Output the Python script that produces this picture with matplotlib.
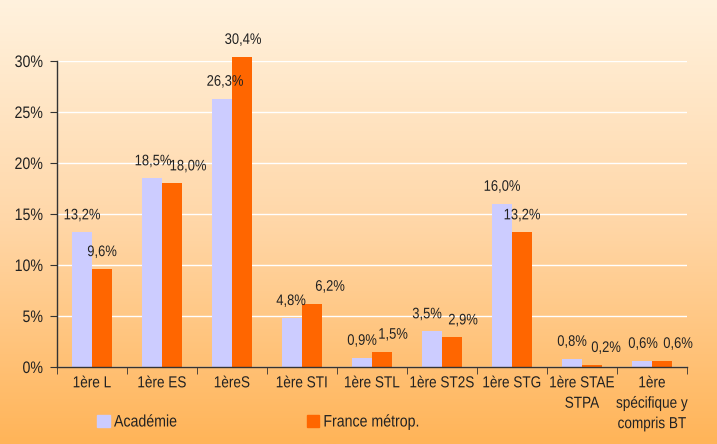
import numpy as np
import matplotlib
matplotlib.use("Agg")
import matplotlib.pyplot as plt
from matplotlib.patches import Patch
from matplotlib.colors import LinearSegmentedColormap
from matplotlib.patheffects import AbstractPathEffect
from matplotlib.transforms import Affine2D

categories = ["1ère L", "1ère ES", "1èreS", "1ère STI", "1ère STL", "1ère ST2S",
              "1ère STG", "1ère STAE\nSTPA", "1ère\nspécifique y\ncompris BT"]
academie = [13.2, 18.5, 26.3, 4.8, 0.9, 3.5, 16.0, 0.8, 0.6]
france = [9.6, 18.0, 30.4, 6.2, 1.5, 2.9, 13.2, 0.2, 0.6]

# label nudges (pixels) so neighbouring value labels don't collide
dx_acad = [0, 1, 3, -1, 0, -5, 0, 0, 1]
dx_fr = [0, 16, 1, 18, 11, 11, 0, 14, 16]

ACAD_COLOR = "#ccccff"
FR_COLOR = "#ff6600"
TXT = "#222222"
plt.rcParams["font.family"] = ["Liberation Sans", "DejaVu Sans"]


class Squeeze(AbstractPathEffect):
    """squash text horizontally, to get the narrow Arial look"""
    def __init__(self, sx=0.85, anchor="center"):
        super().__init__()
        self.sx = sx
        self.anchor = anchor

    def draw_path(self, renderer, gc, tpath, affine, rgbFace=None):
        v = affine.transform_path(tpath).vertices
        if len(v) == 0:
            return
        x0, x1 = v[:, 0].min(), v[:, 0].max()
        cx = {"center": (x0 + x1) / 2, "right": x1, "left": x0}[self.anchor]
        t = affine + Affine2D().translate(-cx, 0).scale(self.sx, 1).translate(cx, 0)
        renderer.draw_path(gc, tpath, t, rgbFace)


W, H = 717, 444
fig = plt.figure(figsize=(W / 100, H / 100), dpi=100)

# background gradient
bg = fig.add_axes([0, 0, 1, 1])
cmap = LinearSegmentedColormap.from_list("bg", ["#fff2de", "#ffd7a8", "#ffb458"])
bg.imshow(np.linspace(0, 1, 256).reshape(-1, 1), aspect="auto", cmap=cmap,
          extent=[0, 1, 0, 1])
bg.set_axis_off()

ax = fig.add_axes([57 / W, (H - 367) / H, 630 / W, 306 / H])
ax.set_facecolor("none")

x = np.arange(len(categories))
w = 20 / 70
ax.bar(x - w / 2, academie, w, color=ACAD_COLOR, clip_on=False, zorder=2)
ax.bar(x + w / 2, france, w, color=FR_COLOR, clip_on=False, zorder=2)

for i in range(len(categories)):
    for val, off, dx in [(academie[i], -w / 2, dx_acad[i]), (france[i], w / 2, dx_fr[i])]:
        ax.annotate(f"{val:.1f}%".replace(".", ","), (x[i] + off, val),
                    xytext=(dx, 17), textcoords="offset pixels",
                    ha="center", va="center", fontsize=11, color=TXT,
                    annotation_clip=False, path_effects=[Squeeze()])

ax.set_xlim(-0.5, len(categories) - 0.5)
ax.set_ylim(0, 30)
ax.set_yticks(np.arange(0, 31, 5))
ax.set_yticklabels([f"{t}%" for t in range(0, 31, 5)], fontsize=12, color=TXT)
ax.set_xticks(x)
ax.set_xticklabels(categories, fontsize=11.5, color=TXT, linespacing=1.45, va="top")
ax.set_xticks(np.arange(-0.5, len(categories)), minor=True)
ax.tick_params(axis="x", which="major", length=0, pad=6)
ax.tick_params(axis="x", which="minor", length=5, direction="out", color="#333333")
ax.tick_params(axis="y", length=5, direction="out", color="#333333", pad=5)
for t in ax.get_yticklabels():
    t.set_path_effects([Squeeze(anchor="right")])
for t in ax.get_xticklabels():
    t.set_path_effects([Squeeze()])

ax.grid(axis="y", color="white", linewidth=1)
ax.set_axisbelow(True)
for s in ["top", "right"]:
    ax.spines[s].set_visible(False)
for s in ["left", "bottom"]:
    ax.spines[s].set_color("#333333")
    ax.spines[s].set_linewidth(1)

handles = [Patch(color=ACAD_COLOR, label="Académie"), Patch(color=FR_COLOR, label="France métrop.")]
leg = fig.legend(handles=handles, loc="center left", bbox_to_anchor=(89 / W, 1 - 422 / H),
                 ncol=2, frameon=False, fontsize=12, handlelength=0.75, handleheight=0.75,
                 handletextpad=0.25, columnspacing=7.1, borderpad=0, labelcolor=TXT)
for t in leg.get_texts():
    t.set_path_effects([Squeeze(anchor="left")])

fig.savefig("out.png", dpi=100)
